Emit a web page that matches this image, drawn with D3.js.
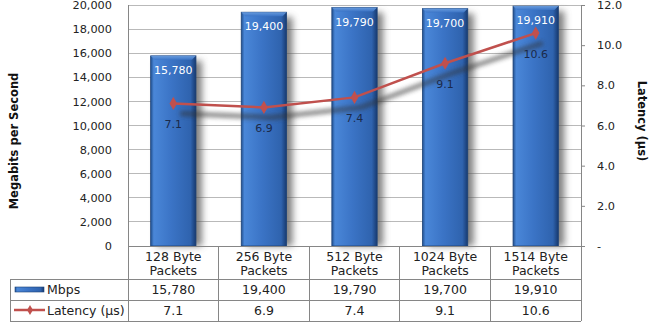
<!DOCTYPE html>
<html>
<head>
<meta charset="utf-8">
<script src="https://cdn.jsdelivr.net/npm/d3@7"></script>
<style>
  body { margin: 0; background: #fff; }
  svg { font-family: "DejaVu Sans", Verdana, sans-serif; }
</style>
</head>
<body>
<svg id="chart"></svg>
<script>
// chart data
const categories = ["128 Byte Packets", "256 Byte Packets", "512 Byte Packets", "1024 Byte Packets", "1514 Byte Packets"];
const mbps = [15780, 19400, 19790, 19700, 19910];
const latency = [7.1, 6.9, 7.4, 9.1, 10.6];
const leftTicks = [0, 2000, 4000, 6000, 8000, 10000, 12000, 14000, 16000, 18000, 20000];
const rightTicks = [0, 2, 4, 6, 8, 10, 12];
const seriesNames = ["Mbps", "Latency (µs)"];

const W = 654, H = 324;
const plot = { left: 128, right: 581, top: 5, bottom: 246 };
const rows = { legendTop: 279, mid: 300, bottom: 321, tableLeft: 10 };

const svg = d3.select("#chart").attr("width", W).attr("height", H);

const defs = svg.append("defs");
const grad = defs.append("linearGradient").attr("id", "barGrad")
    .attr("x1", 0).attr("x2", 1).attr("y1", 0).attr("y2", 0);
[["0%", "#21508f"], ["7%", "#4a87d8"], ["45%", "#3b74c6"], ["88%", "#2f63ae"], ["100%", "#173a70"]]
    .forEach(s => grad.append("stop").attr("offset", s[0]).attr("stop-color", s[1]));
const capGrad = defs.append("linearGradient").attr("id", "capGrad")
    .attr("x1", 0).attr("x2", 0).attr("y1", 0).attr("y2", 1);
capGrad.append("stop").attr("offset", "0%").attr("stop-color", "#6c9fe0");
capGrad.append("stop").attr("offset", "100%").attr("stop-color", "#3b74c6");
const blur = defs.append("filter").attr("id", "blur")
    .attr("x", "-50%").attr("y", "-50%").attr("width", "200%").attr("height", "200%");
blur.append("feGaussianBlur").attr("stdDeviation", 3.5);
const blur2 = defs.append("filter").attr("id", "blur2")
    .attr("x", "-20%").attr("y", "-50%").attr("width", "140%").attr("height", "200%");
blur2.append("feGaussianBlur").attr("stdDeviation", 2.2);

// scales
const x = d3.scaleBand().domain(categories).range([plot.left, plot.right]).paddingInner(0.5).paddingOuter(0.25);
const band = d3.scaleBand().domain(categories).range([plot.left, plot.right]);
const yL = d3.scaleLinear().domain([0, 20000]).range([plot.bottom, plot.top]);
const yR = d3.scaleLinear().domain([0, 12]).range([plot.bottom, plot.top]);

// gridlines
svg.append("g").selectAll("line").data(leftTicks.slice(1)).join("line")
    .attr("x1", plot.left).attr("x2", plot.right)
    .attr("y1", d => yL(d)).attr("y2", d => yL(d))
    .attr("stroke", "#b9b9b9").attr("stroke-width", 1).attr("shape-rendering", "crispEdges");

// left axis labels
const fmt = d3.format(",");
const leftAxis = d3.axisLeft(yL).tickValues(leftTicks).tickSize(0).tickPadding(16).tickFormat(fmt);
const gl = svg.append("g").attr("transform", `translate(${plot.left},0)`).call(leftAxis);
gl.select(".domain").remove();
gl.selectAll("text").attr("font-size", 11.3).attr("fill", "#222").attr("font-family", "DejaVu Sans");

// right axis
const rightAxis = d3.axisRight(yR).tickValues(rightTicks).tickSize(4).tickPadding(12)
    .tickFormat(d => d === 0 ? "-" : d3.format(".1f")(d));
const gr = svg.append("g").attr("transform", `translate(${plot.right},0)`).call(rightAxis);
gr.select(".domain").remove();
gr.selectAll("line").attr("stroke", "#868686");
gr.selectAll("text").attr("font-size", 11.3).attr("fill", "#222").attr("font-family", "DejaVu Sans");

// bar shadows
svg.append("g").selectAll("rect").data(mbps).join("rect")
    .attr("x", (d, i) => x(categories[i]) + 6)
    .attr("y", d => yL(d) + 5)
    .attr("width", x.bandwidth())
    .attr("height", d => plot.bottom - yL(d) - 5)
    .attr("fill", "#555").attr("opacity", 0.75).attr("filter", "url(#blur)");

// bars
const bars = svg.append("g");
bars.selectAll("rect.bar").data(mbps).join("rect").attr("class", "bar")
    .attr("x", (d, i) => x(categories[i]))
    .attr("y", d => yL(d))
    .attr("width", x.bandwidth())
    .attr("height", d => plot.bottom - yL(d))
    .attr("fill", "url(#barGrad)")
    .attr("stroke", "#1d4277").attr("stroke-width", 0.8);
bars.selectAll("path.cap").data(mbps).join("path").attr("class", "cap")
    .attr("d", (d, i) => {
        const x0 = x(categories[i]), x1 = x0 + x.bandwidth(), y0 = yL(d);
        return `M${x0},${y0}L${x1},${y0}L${x1 - 4},${y0 + 4}L${x0 + 4},${y0 + 4}Z`;
    })
    .attr("fill", "url(#capGrad)").attr("opacity", 0.9);

// bar value labels
svg.append("g").selectAll("text").data(mbps).join("text")
    .attr("x", (d, i) => x(categories[i]) + x.bandwidth() / 2)
    .attr("y", d => yL(d) + 18)
    .attr("text-anchor", "middle").attr("font-size", 11).attr("fill", "#fff")
    .text(d => fmt(d));

// latency line shadow
const line = d3.line().x((d, i) => band(categories[i]) + band.bandwidth() / 2).y(d => yR(d));
svg.append("path").datum(latency)
    .attr("d", line).attr("transform", "translate(7,10)")
    .attr("fill", "none").attr("stroke", "#333").attr("stroke-width", 5).attr("opacity", 0.55)
    .attr("filter", "url(#blur2)");

// latency line
svg.append("path").datum(latency)
    .attr("d", line).attr("fill", "none").attr("stroke", "#c0504d").attr("stroke-width", 2.5);
const diamond = d3.symbol().type(d3.symbolDiamond).size(50);
svg.append("g").selectAll("path").data(latency).join("path")
    .attr("d", diamond)
    .attr("transform", (d, i) => `translate(${band(categories[i]) + band.bandwidth() / 2},${yR(d)})`)
    .attr("fill", "#c0504d");

// latency labels
svg.append("g").selectAll("text").data(latency).join("text")
    .attr("x", (d, i) => band(categories[i]) + band.bandwidth() / 2)
    .attr("y", d => yR(d) + 25)
    .attr("text-anchor", "middle").attr("font-size", 11).attr("fill", "#1b2a4a")
    .text(d => d3.format(".1f")(d));

// axis titles
svg.append("text")
    .attr("transform", "translate(18,141) rotate(-90)")
    .attr("text-anchor", "middle").attr("font-size", 11.5).attr("font-weight", "bold").attr("fill", "#111")
    .text("Megabits per Second");
svg.append("text")
    .attr("transform", "translate(638,121) rotate(90)")
    .attr("text-anchor", "middle").attr("font-size", 11.5).attr("font-weight", "bold").attr("fill", "#111")
    .text("Latency (µs)");

// data table
const tbl = svg.append("g").attr("stroke", "#868686").attr("stroke-width", 1).attr("shape-rendering", "crispEdges");
tbl.append("line").attr("x1", plot.left).attr("x2", plot.right).attr("y1", plot.bottom).attr("y2", plot.bottom);
[rows.legendTop, rows.mid, rows.bottom].forEach(yy =>
    tbl.append("line").attr("x1", rows.tableLeft).attr("x2", plot.right).attr("y1", yy).attr("y2", yy));
tbl.append("line").attr("x1", rows.tableLeft).attr("x2", rows.tableLeft).attr("y1", rows.legendTop).attr("y2", rows.bottom);
tbl.append("line").attr("x1", plot.left).attr("x2", plot.left).attr("y1", plot.top).attr("y2", rows.bottom);
tbl.append("line").attr("x1", plot.right).attr("x2", plot.right).attr("y1", plot.top).attr("y2", rows.bottom);
tbl.selectAll("line.sep").data(categories.slice(1)).join("line").attr("class", "sep")
    .attr("x1", d => band(d)).attr("x2", d => band(d))
    .attr("y1", plot.bottom).attr("y2", rows.bottom);

// category labels
const cat = svg.append("g").selectAll("text").data(categories).join("text")
    .attr("text-anchor", "middle").attr("font-size", 12.5).attr("fill", "#222");
cat.each(function (d) {
    const parts = d.split(" ");
    const cx = band(d) + band.bandwidth() / 2;
    d3.select(this).append("tspan").attr("x", cx).attr("y", 261).text(parts[0] + " " + parts[1]);
    d3.select(this).append("tspan").attr("x", cx).attr("y", 275).text(parts[2]);
});

// table values
svg.append("g").selectAll("text").data(mbps).join("text")
    .attr("x", (d, i) => band(categories[i]) + band.bandwidth() / 2).attr("y", 294)
    .attr("text-anchor", "middle").attr("font-size", 12.5).attr("fill", "#222").text(d => fmt(d));
svg.append("g").selectAll("text").data(latency).join("text")
    .attr("x", (d, i) => band(categories[i]) + band.bandwidth() / 2).attr("y", 314.5)
    .attr("text-anchor", "middle").attr("font-size", 12.5).attr("fill", "#222").text(d => d3.format(".1f")(d));

// legend keys
svg.append("rect").attr("x", 15).attr("y", 287).attr("width", 29).attr("height", 5)
    .attr("fill", "url(#barGrad)").attr("stroke", "#1d4277").attr("stroke-width", 0.6);
svg.append("line").attr("x1", 14).attr("x2", 45).attr("y1", 310).attr("y2", 310)
    .attr("stroke", "#c0504d").attr("stroke-width", 2.5);
svg.append("path").attr("d", d3.symbol().type(d3.symbolDiamond).size(30))
    .attr("transform", "translate(30,310)").attr("fill", "#c0504d");
svg.append("g").selectAll("text").data(seriesNames).join("text")
    .attr("x", 47).attr("y", (d, i) => i === 0 ? 294 : 314.5)
    .attr("font-size", 12.5).attr("fill", "#222").text(d => d);
</script>
</body>
</html>
